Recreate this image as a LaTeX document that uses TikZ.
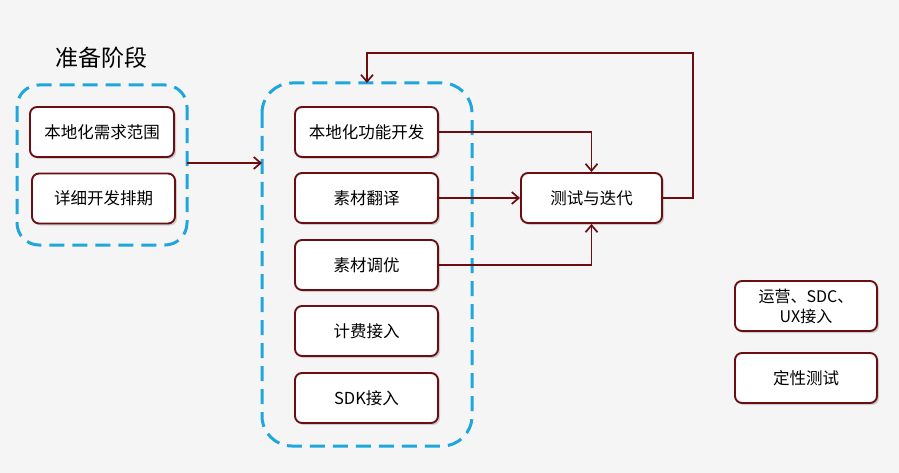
\documentclass[tikz,border=0pt]{standalone}
\usepackage{fontspec}
\setmainfont{Noto Sans CJK SC}
\usetikzlibrary{shadows,arrows.meta}
\definecolor{boxred}{HTML}{6A0E12}
\definecolor{dashblue}{HTML}{1FA7DC}
\definecolor{bgc}{HTML}{F5F5F5}
\tikzset{
  x=1pt,y=-1pt,
  card/.style={draw=boxred, line width=1.9pt, fill=white, rounded corners=7pt,
    drop shadow={shadow xshift=2pt,shadow yshift=-2pt,fill=black!35,opacity=0.5},
    minimum width=143pt, minimum height=50pt, font=\fontsize{16.5}{19}\selectfont, align=center, inner sep=2pt},
  group/.style={draw=dashblue, line width=3pt, dash pattern=on 15pt off 8pt, rounded corners=22pt},
  link/.style={draw=boxred, line width=1.7pt, -{Straight Barb[length=7pt,width=12pt]}},
}
\begin{document}
\begin{tikzpicture}
\fill[bgc] (0,0) rectangle (899,473);
\useasboundingbox (0,0) rectangle (899,473);
% groups
\draw[group] (17,85) rectangle (187,245);
\draw[group, rounded corners=30pt] (262,83) rectangle (472,446);
\coordinate (gL) at (187,163);
\coordinate (gM) at (262,163);
\coordinate (gTop) at (367,83);
\coordinate (loopR) at (693,53);
\node[font=\fontsize{23}{27}\selectfont] (title) at (101,58) {准备阶段};
% left cards
\node[card, minimum width=144pt] (a1) at (102,132) {本地化需求范围};
\node[card, minimum width=143pt] (a2) at (103.5,198.5) {详细开发排期};
% middle cards
\node[card] (b1) at (366.5,132) {本地化功能开发};
\node[card] (b2) at (366.5,198) {素材翻译};
\node[card] (b3) at (366.5,265) {素材调优};
\node[card] (b4) at (366.5,331) {计费接入};
\node[card] (b5) at (366.5,398) {SDK接入};
% test
\node[card, minimum width=141pt] (t) at (591.5,198) {测试与迭代};
% right cards
\node[card, minimum width=142pt, font=\fontsize{16}{20}\selectfont] (r1) at (806,306) {运营、SDC、\\UX接入};
\node[card, minimum width=142pt] (r2) at (806,378) {定性测试};
% connectors
\draw[link] (gL) -- (gM);
\draw[link] (b1.east) -| (t.north);
\draw[link] (b2.east) -- (t.west);
\draw[link] (b3.east) -| (t.south);
\draw[link] (t.east) -| (loopR) -| (gTop);
\end{tikzpicture}
\end{document}
